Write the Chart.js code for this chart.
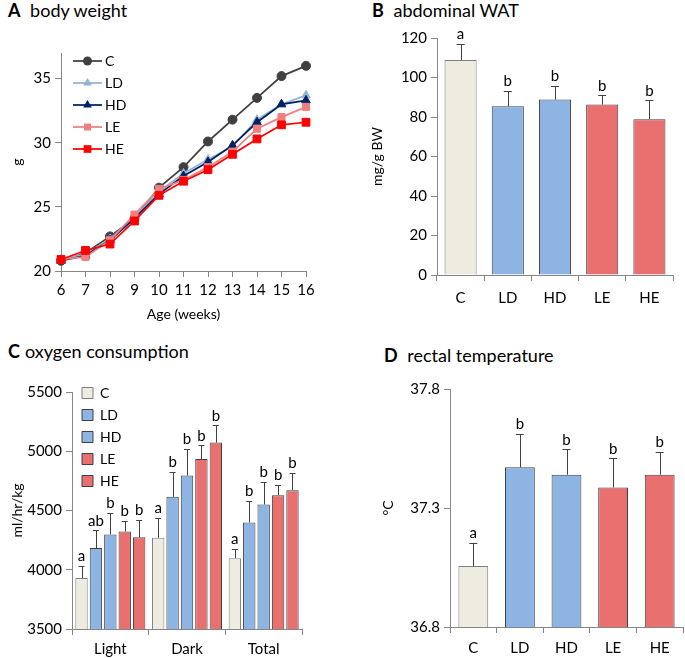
<!DOCTYPE html>
<html>
<head>
<meta charset="utf-8">
<script src="https://cdn.jsdelivr.net/npm/chart.js@4.4.1/dist/chart.umd.min.js"></script>
<style>
  body { margin: 0; background: #fff; font-family: Lato, sans-serif; }
  #page { position: relative; width: 685px; height: 658px; overflow: hidden; }
  .panel { position: absolute; }
  .ttl { position: absolute; font-size: 18px; color: #000; white-space: nowrap; line-height: 1; }
  .ttl b { margin-right: 5px; }
</style>
</head>
<body>
<div id="page">
  <div class="ttl" style="left:8px;top:1px"><b>A</b> body weight</div>
  <div class="ttl" style="left:372px;top:1px"><b>B</b> abdominal WAT</div>
  <div class="ttl" style="left:8px;top:342px"><b>C</b>oxygen consumption</div>
  <div class="ttl" style="left:384px;top:346px"><b>D</b> rectal temperature</div>
  <div class="panel" style="left:0;top:30px"><canvas id="cA" width="340" height="300"></canvas></div>
  <div class="panel" style="left:340px;top:20px"><canvas id="cB" width="345" height="300"></canvas></div>
  <div class="panel" style="left:0;top:340px"><canvas id="cC" width="340" height="318"></canvas></div>
  <div class="panel" style="left:340px;top:340px"><canvas id="cD" width="345" height="318"></canvas></div>
</div>
<script>
// groups
var groups = ['C', 'LD', 'HD', 'LE', 'HE'];

// A: body weight (g) by age in weeks
var weeks = ['6', '7', '8', '9', '10', '11', '12', '13', '14', '15', '16'];
var bwC  = [20.8, 21.4, 22.7, 24.1, 26.5, 28.1, 30.1, 31.8, 33.5, 35.2, 36.0];
var bwLD = [20.9, 21.3, 22.5, 24.2, 26.2, 27.6, 28.7, 29.7, 31.8, 33.0, 33.7];
var bwHD = [20.8, 21.2, 22.4, 24.1, 26.0, 27.4, 28.5, 29.8, 31.6, 33.0, 33.3];
var bwLE = [20.9, 21.1, 22.4, 24.4, 26.4, 27.1, 28.1, 29.3, 31.1, 32.0, 32.8];
var bwHE = [20.9, 21.6, 22.1, 23.9, 25.9, 27.0, 27.9, 29.1, 30.3, 31.4, 31.6];

// B: abdominal WAT (mg/g BW), mean and SE
var wat   = [108.9, 85.4, 88.8, 86.3, 78.9];
var watSE = [8.2, 7.8, 6.9, 4.7, 9.6];
var watLetters = ['a', 'b', 'b', 'b', 'b'];

// C: oxygen consumption (ml/hr/kg) for Light, Dark, Total
var periods = ['Light', 'Dark', 'Total'];
var vo2C  = [3930, 4270, 4098];
var vo2LD = [4183, 4615, 4399];
var vo2HD = [4298, 4795, 4551];
var vo2LE = [4323, 4935, 4629];
var vo2HE = [4275, 5073, 4671];
var vo2SE_C  = [104, 168, 79];
var vo2SE_LD = [151, 211, 180];
var vo2SE_HD = [180, 227, 191];
var vo2SE_LE = [90, 116, 90];
var vo2SE_HE = [146, 146, 146];
var vo2Let_C  = ['a', 'a', 'a'];
var vo2Let_LD = ['ab', 'b', 'b'];
var vo2Let_HD = ['b', 'b', 'b'];
var vo2Let_LE = ['b', 'b', 'b'];
var vo2Let_HE = ['b', 'b', 'b'];

// D: rectal temperature (°C)
var temp   = [37.056, 37.471, 37.440, 37.386, 37.440];
var tempSE = [0.098, 0.142, 0.107, 0.123, 0.097];
var tempLetters = ['a', 'b', 'b', 'b', 'b'];

var axisColor = '#868686';
var beige = '#EEECE1', blue = '#8DB4E2', red = '#EA7070';
var barColors = [beige, blue, blue, red, red];
var barBorders = ['#7F7F7F', '#404040', '#404040', '#404040', '#404040'];
Chart.defaults.font.family = 'Lato, sans-serif';
Chart.defaults.color = '#000';

// error bars + letters from the dataset's own values
var errorBars = {
  id: 'errorBars',
  afterDatasetsDraw: function (chart, args, opts) {
    var ctx = chart.ctx;
    var y = chart.scales.y;
    chart.data.datasets.forEach(function (ds, di) {
      if (!ds.se) return;
      var meta = chart.getDatasetMeta(di);
      meta.data.forEach(function (bar, i) {
        var top = y.getPixelForValue(ds.data[i] + ds.se[i]);
        ctx.save();
        ctx.strokeStyle = '#404040';
        ctx.lineWidth = 1;
        ctx.beginPath();
        ctx.moveTo(Math.round(bar.x) + 0.5, bar.y);
        ctx.lineTo(Math.round(bar.x) + 0.5, Math.round(top) + 0.5);
        ctx.moveTo(bar.x - opts.cap, Math.round(top) + 0.5);
        ctx.lineTo(bar.x + opts.cap, Math.round(top) + 0.5);
        ctx.stroke();
        ctx.fillStyle = '#000';
        ctx.font = '15px Lato';
        ctx.textAlign = 'center';
        ctx.textBaseline = 'bottom';
        ctx.fillText(ds.letters[i], bar.x, top - 2);
        ctx.restore();
      });
    });
  }
};

// put the in-plot legend where it sits in the figure
// (a chartArea legend starts at the top of the canvas)
var legendShift = {
  id: 'legendShift',
  afterLayout: function (chart, args, opts) {
    if (!chart.legend) return;
    chart.legend.left += opts.dx || 0;
    chart.legend.top += opts.dy || 0;
  }
};

function yAxis(min, max, step, title, width, titlePad, fmt) {
  return {
    min: min, max: max, bounds: 'data',
    border: {display: true, color: axisColor},
    grid: {drawOnChartArea: false, drawTicks: true, tickLength: 6, color: axisColor},
    ticks: {stepSize: step, includeBounds: false, padding: 4, font: {size: 15},
      callback: function (v) { return fmt ? v.toFixed(fmt) : String(v); }},
    title: {display: true, text: title, font: {size: 14}, padding: {top: titlePad, bottom: 0}},
    afterBuildTicks: function (s) {
      s.ticks = s.ticks.filter(function (t) { return Math.abs((t.value - min) / step - Math.round((t.value - min) / step)) < 1e-6; });
    },
    afterFit: function (s) { s.width = width; }
  };
}

function xAxis(height, pad, title) {
  var ax = {
    border: {display: true, color: axisColor},
    grid: {drawOnChartArea: false, drawTicks: true, tickLength: 6, color: axisColor},
    ticks: {padding: pad, font: {size: 15}, maxRotation: 0, autoSkip: false},
    afterFit: function (s) { s.height = height; }
  };
  if (title) ax.title = {display: true, text: title, font: {size: 14}, padding: {top: 0, bottom: 7}};
  return ax;
}

// A legend icons: line with marker
function lineIcon(color, style, r) {
  var c = document.createElement('canvas');
  c.width = 29; c.height = 14;
  var g = c.getContext('2d');
  g.strokeStyle = color; g.fillStyle = color; g.lineWidth = 1.75;
  g.beginPath(); g.moveTo(0, 7); g.lineTo(29, 7); g.stroke();
  g.beginPath();
  if (style === 'circle') g.arc(14.5, 7, r, 0, Math.PI * 2);
  else if (style === 'triangle') { g.moveTo(14.5, 7 - r); g.lineTo(14.5 + r * 0.87, 7 + r * 0.5); g.lineTo(14.5 - r * 0.87, 7 + r * 0.5); g.closePath(); }
  else g.rect(14.5 - r * 0.7, 7 - r * 0.7, r * 1.4, r * 1.4);
  g.fill();
  return c;
}

var lineColors = ['#404040', '#95B3D7', '#002060', '#F08080', '#FF0000'];
var lineStyles = ['circle', 'triangle', 'triangle', 'rect', 'rect'];
var lineRadius = [4.5, 5, 5, 5, 5.5];
var bwSeries = [bwC, bwLD, bwHD, bwLE, bwHE];

new Chart(document.getElementById('cA'), {
  type: 'line',
  data: {
    labels: weeks,
    datasets: groups.map(function (g, i) {
      return {
        label: g, data: bwSeries[i], borderColor: lineColors[i], backgroundColor: lineColors[i],
        borderWidth: 1.75, pointStyle: lineStyles[i], pointRadius: lineRadius[i],
        pointBorderWidth: 1, tension: 0, order: 5 - i, icon: lineIcon(lineColors[i], lineStyles[i], lineRadius[i])
      };
    })
  },
  options: {
    responsive: false, animation: false,
    layout: {padding: {left: 0, top: 23, right: 34, bottom: 0}},
    plugins: {
      legend: {
        position: 'chartArea', align: 'start',
        labels: {
          usePointStyle: true, pointStyleWidth: 21, font: {size: 14}, padding: 8,
          generateLabels: function (chart) {
            return chart.data.datasets.map(function (ds, i) {
              return {text: ds.label, pointStyle: ds.icon, datasetIndex: i, fillStyle: ds.borderColor,
                strokeStyle: ds.borderColor, lineWidth: 0, hidden: false};
            });
          }
        }
      },
      legendShift: {dx: 8, dy: 16},
      tooltip: {enabled: false}
    },
    scales: {
      x: xAxis(59, 4, 'Age (weeks)'),
      y: yAxis(20, 37, 5, 'g', 61, 9)
    }
  },
  plugins: [legendShift]
});

new Chart(document.getElementById('cB'), {
  type: 'bar',
  data: {
    labels: groups,
    datasets: [{
      label: 'abdominal WAT', data: wat, se: watSE, letters: watLetters,
      backgroundColor: barColors, borderColor: barBorders, borderWidth: 1,
      barPercentage: 0.68, categoryPercentage: 1
    }]
  },
  options: {
    responsive: false, animation: false,
    layout: {padding: {left: 0, top: 18, right: 12, bottom: 0}},
    plugins: {legend: {display: false}, tooltip: {enabled: false}, errorBars: {cap: 4}},
    scales: {
      x: xAxis(45, 8),
      y: yAxis(0, 120, 20, 'mg/g BW', 97, 29)
    }
  },
  plugins: [errorBars]
});

var vo2Series = [vo2C, vo2LD, vo2HD, vo2LE, vo2HE];
var vo2SE = [vo2SE_C, vo2SE_LD, vo2SE_HD, vo2SE_LE, vo2SE_HE];
var vo2Let = [vo2Let_C, vo2Let_LD, vo2Let_HD, vo2Let_LE, vo2Let_HE];

new Chart(document.getElementById('cC'), {
  type: 'bar',
  data: {
    labels: periods,
    datasets: groups.map(function (g, i) {
      return {
        label: g, data: vo2Series[i], se: vo2SE[i], letters: vo2Let[i],
        backgroundColor: barColors[i], borderColor: barBorders[i], borderWidth: 1,
        barPercentage: 0.86, categoryPercentage: 0.94
      };
    })
  },
  options: {
    responsive: false, animation: false,
    layout: {padding: {left: 0, top: 52, right: 38, bottom: 0}},
    plugins: {
      legend: {
        position: 'chartArea', align: 'start',
        labels: {boxWidth: 11, boxHeight: 11, font: {size: 14}, padding: 8}
      },
      legendShift: {dx: 2, dy: 38},
      tooltip: {enabled: false},
      errorBars: {cap: 3}
    },
    scales: {
      x: xAxis(29, 5),
      y: yAxis(3500, 5500, 500, 'ml/hr/kg', 72, 9)
    }
  },
  plugins: [errorBars, legendShift]
});

new Chart(document.getElementById('cD'), {
  type: 'bar',
  data: {
    labels: groups,
    datasets: [{
      label: 'rectal temperature', data: temp, se: tempSE, letters: tempLetters,
      backgroundColor: barColors, borderColor: barBorders, borderWidth: 1,
      barPercentage: 0.64, categoryPercentage: 1
    }]
  },
  options: {
    responsive: false, animation: false,
    layout: {padding: {left: 0, top: 49, right: 2, bottom: 0}},
    plugins: {legend: {display: false}, tooltip: {enabled: false}, errorBars: {cap: 4}},
    scales: {
      x: xAxis(31, 6),
      y: yAxis(36.8, 37.8, 0.5, '°C', 110, 40, 1)
    }
  },
  plugins: [errorBars]
});
</script>
</body>
</html>
